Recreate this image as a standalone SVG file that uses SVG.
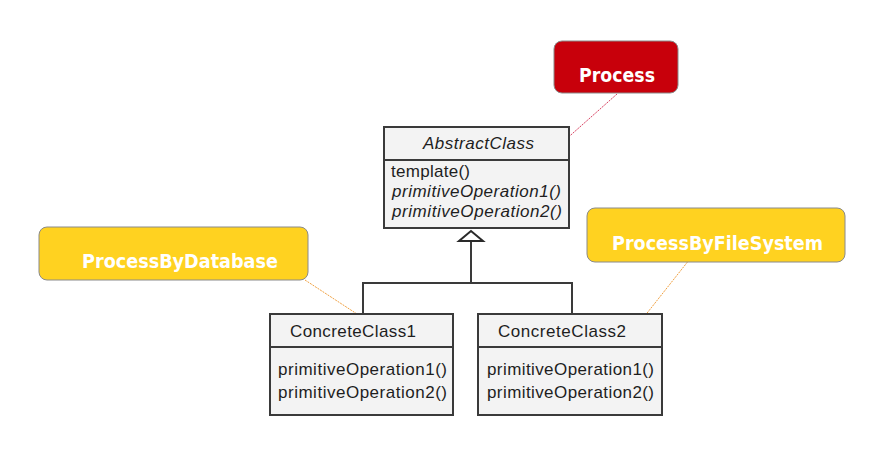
<svg xmlns="http://www.w3.org/2000/svg" width="879" height="472" viewBox="0 0 879 472">
<style>
.box{fill:#f3f3f3;stroke:#3a3a3a;stroke-width:2}
.div{stroke:#3a3a3a;stroke-width:2}
.t{font-family:"Liberation Sans",Arial,sans-serif;font-size:17px;fill:#1e1e1e}
.i{font-style:italic}
.call{font-family:"DejaVu Sans","Liberation Sans",sans-serif;font-weight:bold;font-size:20px;fill:#ffffff}
.yel{fill:#ffd220;stroke:#8a8a8a;stroke-width:1}
.red{fill:#c8000b;stroke:#8a8a8a;stroke-width:1}
.conn{fill:none;stroke:#3a3a3a;stroke-width:2}
</style>
<rect width="879" height="472" fill="#ffffff"/>
<g id="connectors">
<line class="conn" x1="471" y1="240" x2="471" y2="283"/>
<polyline class="conn" points="363,314 363,283 572,283 572,314"/>
<polygon points="471,231 459,241 483,241" fill="#ffffff" stroke="#2a2a2a" stroke-width="2"/>
<line x1="617" y1="94" x2="519" y2="181" stroke="#d84060" stroke-width="1" stroke-dasharray="2,1"/>
<line x1="305" y1="280" x2="357" y2="314" stroke="#f0a040" stroke-width="1" stroke-dasharray="2,1"/>
<line x1="693" y1="255" x2="640" y2="322" stroke="#f0a040" stroke-width="1" stroke-dasharray="2,1"/>
</g>
<g id="AbstractClass">
<rect class="box" x="384" y="127" width="185" height="101"/>
<line class="div" x1="384" y1="160" x2="569" y2="160"/>
<text class="t i" x="423" y="149" textLength="111">AbstractClass</text>
<text class="t" x="391" y="177" textLength="79">template()</text>
<text class="t i" x="392" y="197" textLength="169">primitiveOperation1()</text>
<text class="t i" x="392" y="217" textLength="170">primitiveOperation2()</text>
</g>
<g id="ConcreteClass1">
<rect class="box" x="270" y="314" width="183" height="101"/>
<line class="div" x1="270" y1="347" x2="453" y2="347"/>
<text class="t" x="290" y="337" textLength="126">ConcreteClass1</text>
<text class="t" x="278" y="375" textLength="169">primitiveOperation1()</text>
<text class="t" x="278" y="398" textLength="169">primitiveOperation2()</text>
</g>
<g id="ConcreteClass2">
<rect class="box" x="478" y="314" width="184" height="101"/>
<line class="div" x1="478" y1="347" x2="662" y2="347"/>
<text class="t" x="498" y="337" textLength="128">ConcreteClass2</text>
<text class="t" x="487" y="375" textLength="167">primitiveOperation1()</text>
<text class="t" x="487" y="398" textLength="167">primitiveOperation2()</text>
</g>
<g id="Process">
<rect class="red" x="554" y="41" width="124" height="52" rx="8"/>
<text class="call" x="579" y="82" textLength="76" lengthAdjust="spacingAndGlyphs">Process</text>
</g>
<g id="ProcessByDatabase">
<rect class="yel" x="39" y="227" width="269" height="53" rx="8"/>
<text class="call" x="82" y="268" textLength="196" lengthAdjust="spacingAndGlyphs">ProcessByDatabase</text>
</g>
<g id="ProcessByFileSystem">
<rect class="yel" x="587" y="208" width="258" height="54" rx="8"/>
<text class="call" x="612" y="250" textLength="211" lengthAdjust="spacingAndGlyphs">ProcessByFileSystem</text>
</g>
</svg>
